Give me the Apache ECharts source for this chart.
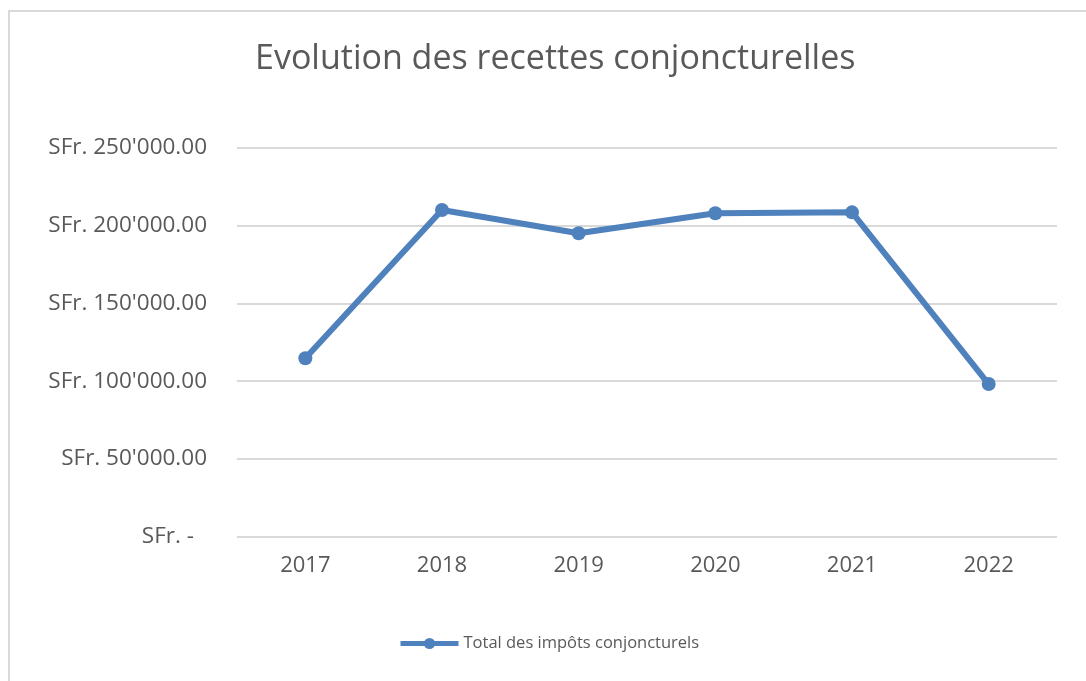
<!DOCTYPE html>
<html>
<head>
<meta charset="utf-8">
<script src="https://cdn.jsdelivr.net/npm/echarts@6/dist/echarts.min.js"></script>
<style>
  html, body { margin: 0; padding: 0; background: #fff; }
  #chart { position: absolute; left: 0; top: 0; width: 1086px; height: 681px; }
  #frame { position: absolute; left: 8px; top: 10px; width: 1100px; height: 700px;
    border: 2px solid #d9d9d9; pointer-events: none; }
</style>
</head>
<body>
<div id="chart"></div>
<div id="frame"></div>
<script>
// data
const years = ['2017', '2018', '2019', '2020', '2021', '2022']
const totalImpots = [114700, 210100, 195100, 208000, 208600, 98100]
const seriesName = 'Total des impôts conjoncturels'
const titleText = 'Evolution des recettes conjoncturelles'

const textColor = '#595959'
const lineColor = '#4f81bd'
const font = 'Open Sans'

function fmtMoney(v) {
  if (v === 0) {
    return '{z|SFr. -}'
  }
  const s = String(Math.round(v)).replace(/\B(?=(\d{3})+(?!\d))/g, "'")
  return 'SFr. ' + s + '.00'
}

const chart = echarts.init(document.getElementById('chart'))
chart.setOption({
  animation: false,
  title: {
    text: titleText,
    left: 250,
    top: 37,
    textStyle: {
      fontFamily: font,
      fontSize: 34,
      fontWeight: 'normal',
      color: textColor
    }
  },
  grid: {
    left: 237,
    right: 29,
    top: 148,
    bottom: 144.5,
    containLabel: false
  },
  legend: {
    data: [seriesName],
    left: 393,
    top: 630,
    itemWidth: 58,
    itemHeight: 14,
    itemStyle: { color: lineColor },
    lineStyle: { color: lineColor, width: 5 },
    textStyle: {
      fontFamily: font,
      fontSize: 16.5,
      color: textColor
    }
  },
  xAxis: {
    type: 'category',
    data: years,
    boundaryGap: true,
    axisLine: { show: false },
    axisTick: { show: false },
    axisLabel: {
      margin: 18,
      fontFamily: font,
      fontSize: 22,
      color: textColor
    }
  },
  yAxis: {
    type: 'value',
    min: 0,
    max: 250000,
    interval: 50000,
    axisLine: { show: false },
    axisTick: { show: false },
    splitLine: { lineStyle: { color: '#d9d9d9', width: 2 } },
    axisLabel: {
      margin: 30,
      fontFamily: font,
      fontSize: 22.5,
      color: textColor,
      formatter: fmtMoney,
      rich: {
        z: {
          fontFamily: font,
          fontSize: 22.5,
          color: textColor,
          padding: [0, 13, 0, 0]
        }
      }
    }
  },
  series: [{
    name: seriesName,
    type: 'line',
    data: totalImpots,
    symbol: 'circle',
    symbolSize: 14,
    itemStyle: { color: lineColor },
    lineStyle: { color: lineColor, width: 6 }
  }]
})
</script>
</body>
</html>
